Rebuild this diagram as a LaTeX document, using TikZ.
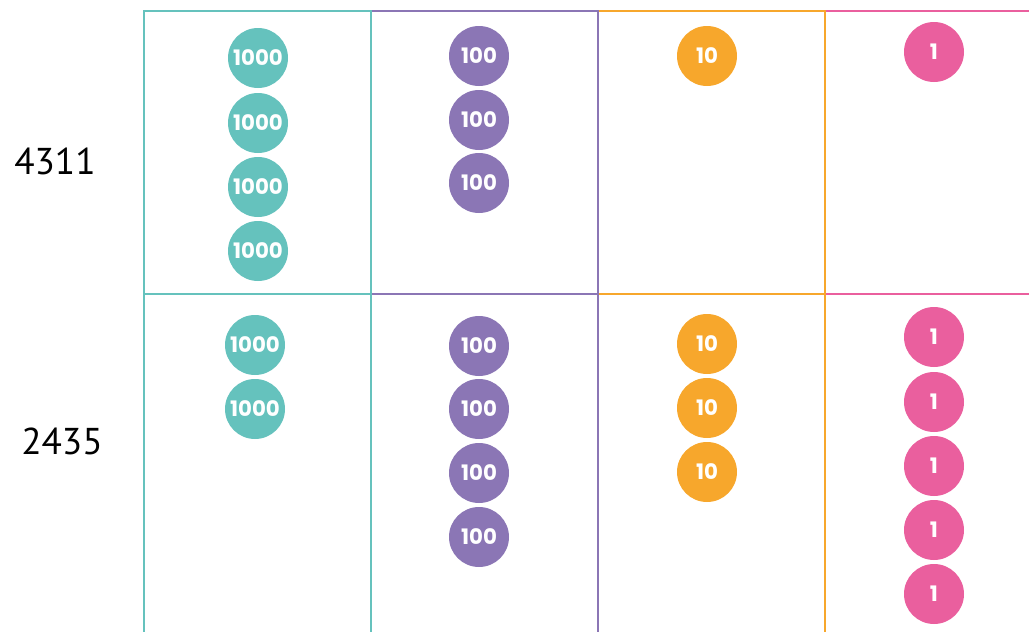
\documentclass[tikz,border=0pt]{standalone}
\usepackage{fontspec}
\setmainfont{PT Sans}
\newfontfamily\chipfont{Poppins}[UprightFont=* Bold]
\definecolor{cteal}{RGB}{101,194,189}
\definecolor{cpurple}{RGB}{139,118,181}
\definecolor{corange}{RGB}{247,167,44}
\definecolor{cpink}{RGB}{234,95,158}
\tikzset{
  colbox/.style={draw=#1, line width=2.2pt},
  chip/.style={circle, fill=#1, draw=none, minimum size=45pt, inner sep=0pt, text=white, font=\chipfont\fontsize{16}{16}\selectfont},
  numlabel/.style={font=\fontsize{28}{28}\selectfont, text=black}
}
\begin{document}
\begin{tikzpicture}[x=0.75pt,y=-0.75pt]
\useasboundingbox (0,0) rectangle (1029,632);
\begin{scope}
\clip (0,0) rectangle (1029,632);
% column boxes (drawn right to left so left colours overlap shared edges)
\draw[colbox=cpink] (825,11) rectangle (1100,294);
\draw[colbox=cpink] (825,294) rectangle (1100,700);
\draw[colbox=corange] (598,11) rectangle (825,294);
\draw[colbox=corange] (598,294) rectangle (825,700);
\draw[colbox=cpurple] (371,11) rectangle (598,294);
\draw[colbox=cpurple] (371,294) rectangle (598,700);
\draw[colbox=cteal] (144,11) rectangle (371,294);
\draw[colbox=cteal] (144,294) rectangle (371,700);
% chips row 1
\foreach \y [count=\i] in {58,123,187,251} \node[chip=cteal] (ta\i) at (258,\y) {1000};
\foreach \y [count=\i] in {56,120,183} \node[chip=cpurple] (pa\i) at (479,\y) {100};
\node[chip=corange] (oa1) at (707,56) {10};
\node[chip=cpink] (ka1) at (934,52) {1};
% chips row 2
\foreach \y [count=\i] in {345,409} \node[chip=cteal] (tb\i) at (255,\y) {1000};
\foreach \y [count=\i] in {346,409,473,537} \node[chip=cpurple] (pb\i) at (479,\y) {100};
\foreach \y [count=\i] in {344,408,472} \node[chip=corange] (ob\i) at (707,\y) {10};
\foreach \y [count=\i] in {337,402,466,530,594} \node[chip=cpink] (kb\i) at (934,\y) {1};
\end{scope}
\node[numlabel] (n1) at (55,161) {4311};
\node[numlabel] (n2) at (62,441) {2435};
\end{tikzpicture}
\end{document}
